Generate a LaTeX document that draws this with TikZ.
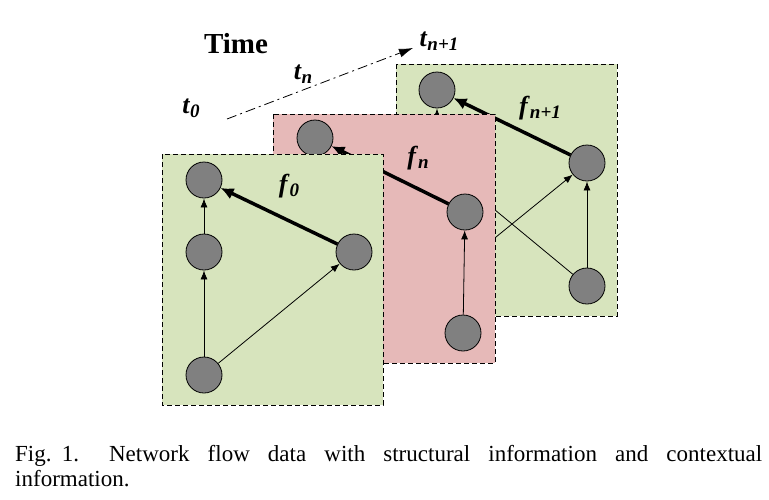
\documentclass[tikz,border=0pt]{standalone}
\usepackage{fontspec}
\setmainfont{Liberation Serif}
\usetikzlibrary{arrows.meta}
\definecolor{panelgreen}{HTML}{D7E4BD}
\definecolor{panelpink}{HTML}{E6B9B8}
\definecolor{nodegray}{HTML}{808080}
\newcommand{\flowlbl}[2]{\textbf{\textit{#1}}\raisebox{-0.15em}{\fontsize{19}{19}\selectfont\textbf{\textit{#2}}}}
\begin{document}
\begin{tikzpicture}[x=1pt,y=-1pt,
  main node/.style={circle,draw,fill=nodegray,line width=0.8pt,minimum size=36pt,inner sep=0pt},
  panel/.style={draw,line width=0.8pt,dash pattern=on 5pt off 3pt},
  thin arc/.style={-{Latex[length=9pt,width=7pt]},line width=0.8pt},
  flow arc/.style={-{Latex[length=13pt,width=12pt]},line width=3.5pt},
  lbl/.style={font=\fontsize{26}{26}\selectfont}]
  \useasboundingbox (0,0) rectangle (769,499);

  % time axis
  \coordinate (ts) at (227,119);
  \coordinate (te) at (413,48);
  \draw[line width=0.8pt,dash pattern=on 10pt off 4pt on 2pt off 4pt,-{Latex[length=14pt,width=9pt]}] (ts) -- (te);
  \node[font=\bfseries\fontsize{29}{29}\selectfont] (time) at (236,44) {Time};
  \node[lbl] (t0) at (191,108) {\flowlbl{t}{0}};
  \node[lbl] (tn) at (303,74) {\flowlbl{t}{n}};
  \node[lbl] (tn1) at (439,41) {\flowlbl{t}{n+1}};

  % panel t_{n+1}
  \path[panel,fill=panelgreen] (396,64) rectangle (617,316);
  \node[main node] (b1) at (437,90) {};
  \coordinate (b2) at (437,162);
  \coordinate (b3) at (437,285);
  \node[main node] (b4) at (587,163) {};
  \node[main node] (b5) at (587,286) {};
  \path[thin arc]
   (b2) edge (b1)
   (b3) edge (b4)
   (b5) edge (b4);
  \draw[line width=0.8pt] (b2) -- (b5);
  \draw[flow arc] (b4) -- (b1);
  \node[lbl] (fn1) at (540,108) {\flowlbl{f}{n+1}};

  % panel t_n
  \path[panel,fill=panelpink] (273,114) rectangle (495,363);
  \node[main node] (m1) at (315,138) {};
  \node[main node] (m4) at (465,212) {};
  \node[main node] (m5) at (463,333) {};
  \draw[thin arc] (m5) -- (m4);
  \draw[flow arc] (m4) -- (m1);
  \node[lbl] (fn) at (418,158) {\flowlbl{f}{n}};

  % panel t_0
  \path[panel,fill=panelgreen] (162,154) rectangle (383,405);
  \node[main node] (f1) at (204,180) {};
  \node[main node] (f2) at (204,252) {};
  \node[main node] (f3) at (204,375) {};
  \node[main node] (f4) at (354,252) {};
  \path[thin arc]
   (f2) edge (f1)
   (f3) edge (f2)
   (f3) edge (f4);
  \draw[flow arc] (f4) -- (f1);
  \node[lbl] (f0) at (289,186) {\flowlbl{f}{0}};

  \node[anchor=north west,align=left,inner sep=0pt,font=\fontsize{23}{25}\selectfont] (caption) at (15,445)
   {\makebox[747pt][s]{\mbox{Fig.\hspace{0.45em}1.}\hspace{1.3em}Network flow data with structural information and contextual}\\information.};
\end{tikzpicture}
\end{document}
